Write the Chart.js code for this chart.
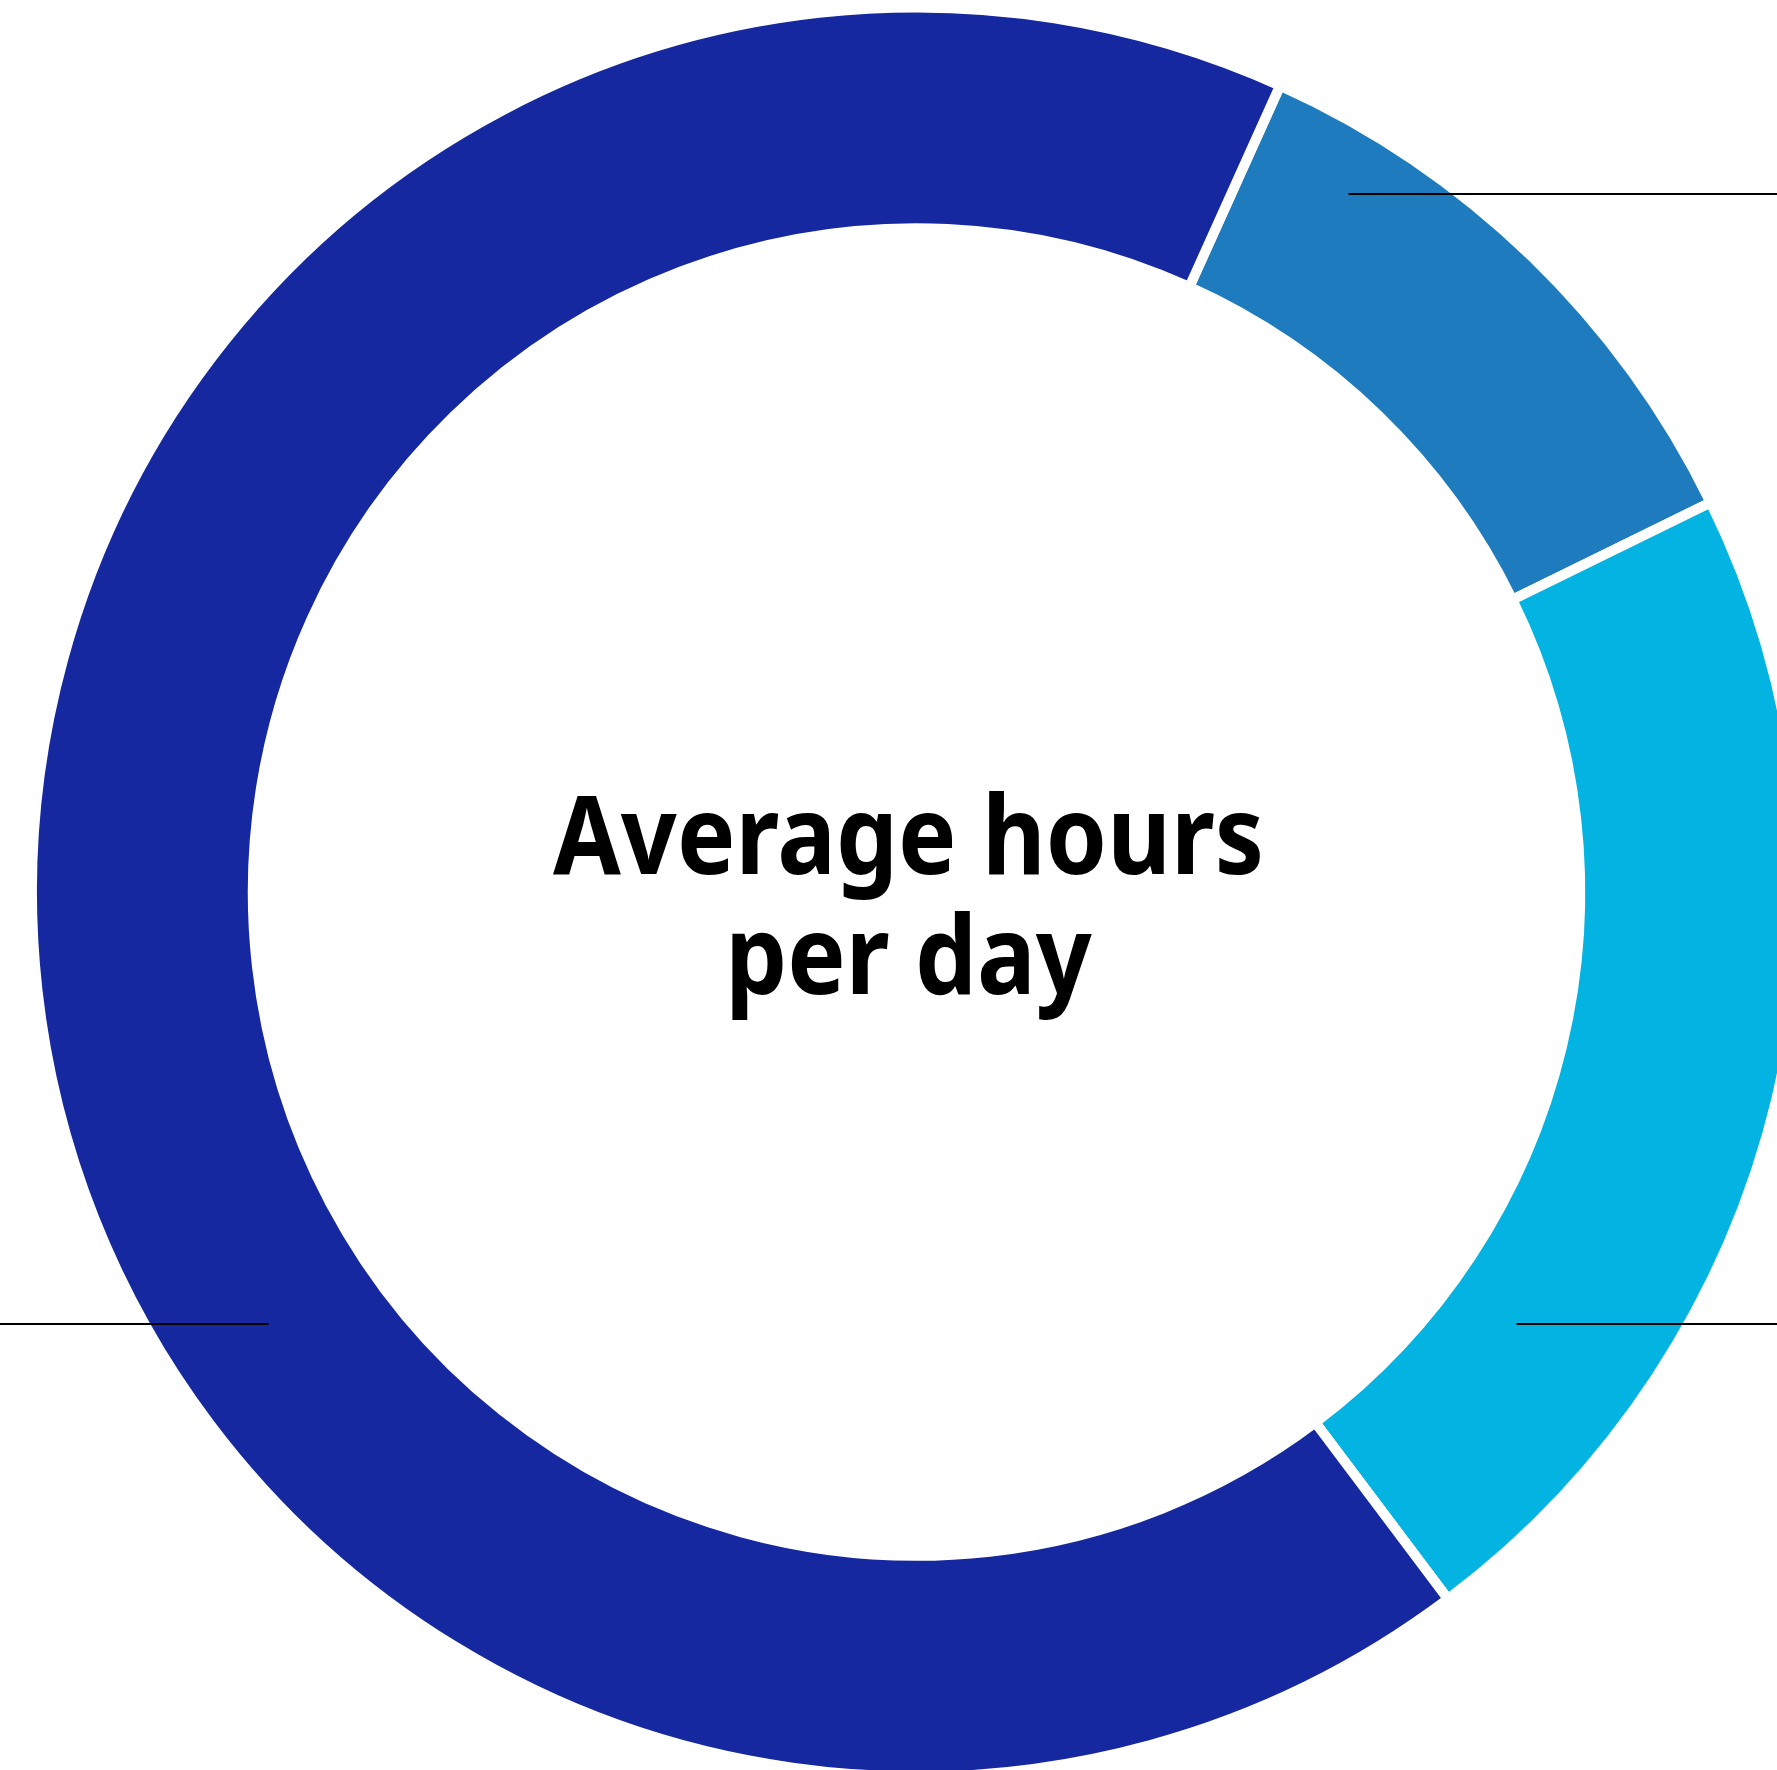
<!DOCTYPE html>
<html>
<head>
<meta charset="utf-8">
<script src="https://cdn.jsdelivr.net/npm/chart.js@4.4.0/dist/chart.umd.min.js"></script>
<style>
  html, body { margin: 0; padding: 0; background: #fff; overflow: hidden; }
  #wrap { position: absolute; left: 0; top: 0; width: 1833px; height: 1784px; }
</style>
</head>
<body>
<div id="wrap"><canvas id="donut"></canvas></div>
<script>
// share of the day, percent
const categories = ["Segment 1", "Segment 2", "Segment 3"];
const shares = [11, 22, 67];
const colours = ["#1D7BBE", "#03B4E3", "#15289F"];
const centreLines = ["Average hours", "per day"];

// leader lines, as offsets from the doughnut centre (labels sit off-canvas)
const leaders = [
  { y: -698, from: 432, to: 2000 },
  { y: 432, from: -2000, to: -648 },
  { y: 432, from: 600, to: 2000 }
];

const centrePlugin = {
  id: "centre",
  afterDraw(chart) {
    const arc = chart.getDatasetMeta(0).data[0];
    const cx = arc.x, cy = arc.y;
    const ctx = chart.ctx;
    ctx.save();

    ctx.strokeStyle = "#000";
    ctx.lineWidth = 2;
    leaders.forEach(function (l) {
      ctx.beginPath();
      ctx.moveTo(cx + l.from, cy + l.y);
      ctx.lineTo(cx + l.to, cy + l.y);
      ctx.stroke();
    });

    ctx.fillStyle = "#000";
    ctx.font = "bold 109px 'Noto Sans'";
    ctx.textAlign = "center";
    ctx.textBaseline = "alphabetic";
    const w = ctx.measureText(centreLines[0]).width;
    const sx = 711 / w;
    ctx.translate(cx - 8, cy);
    ctx.scale(sx, 1);
    ctx.fillText(centreLines[0], 0, -18);
    ctx.fillText(centreLines[1], 0, 102);
    ctx.restore();
  }
};

new Chart(document.getElementById("donut"), {
  type: "doughnut",
  data: {
    labels: categories,
    datasets: [{
      data: shares,
      backgroundColor: colours,
      borderColor: "#ffffff",
      borderWidth: 10,
      hoverOffset: 0
    }]
  },
  options: {
    responsive: true,
    maintainAspectRatio: false,
    animation: false,
    rotation: 24.27,
    radius: 884.5,
    cutout: "75.04%",
    layout: { padding: 0 },
    plugins: {
      legend: { display: false },
      tooltip: { enabled: false }
    }
  },
  plugins: [centrePlugin]
});
</script>
</body>
</html>
